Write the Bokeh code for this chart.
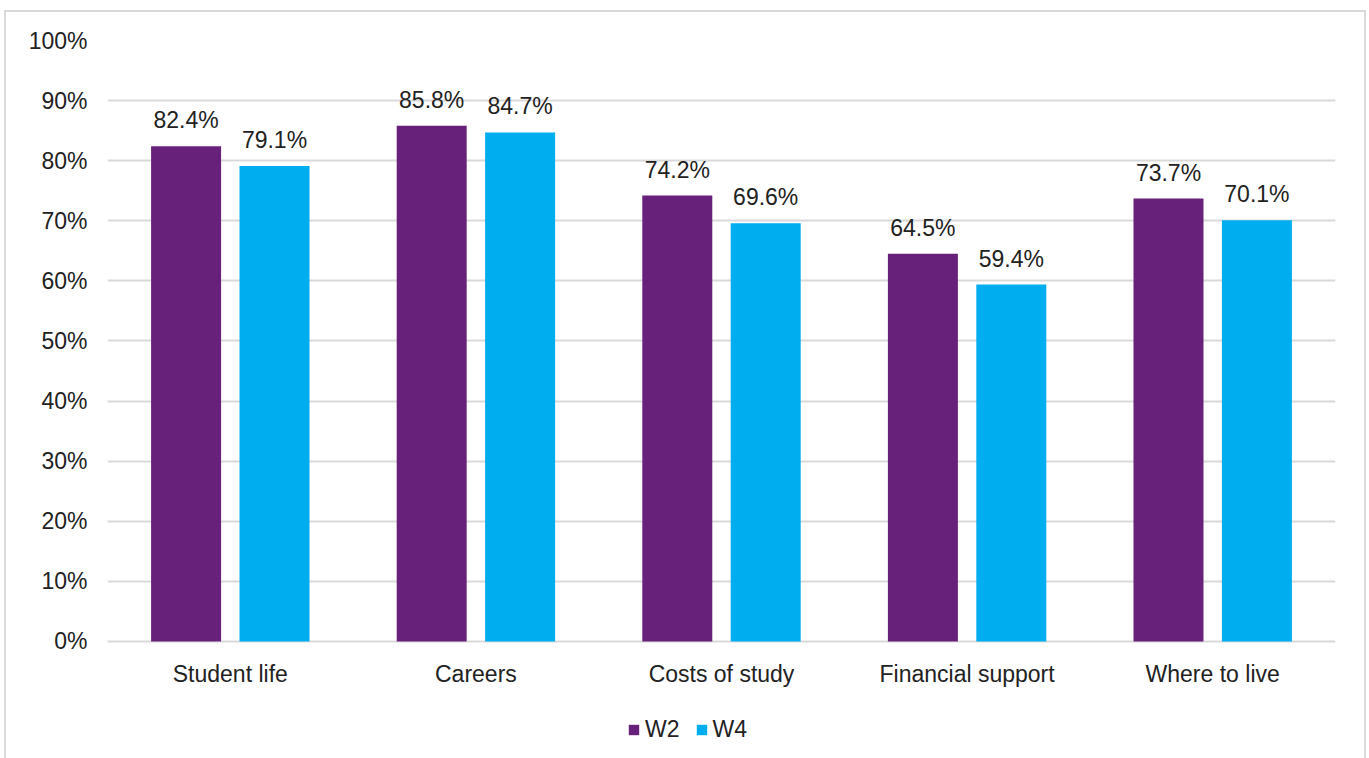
from bokeh.plotting import figure
from bokeh.models import ColumnDataSource, FixedTicker, PrintfTickFormatter, LabelSet, Legend, LegendItem, FactorRange
from bokeh.core.properties import value
from bokeh.transform import dodge
from bokeh.embed import file_html
from bokeh.resources import INLINE

categories = ["Student life", "Careers", "Costs of study", "Financial support", "Where to live"]
w2 = [82.4, 85.8, 74.2, 64.5, 73.7]
w4 = [79.1, 84.7, 69.6, 59.4, 70.1]
series_names = ["W2", "W4"]
y_ticks = [0, 10, 20, 30, 40, 50, 60, 70, 80, 90, 100]

PURPLE = "#68217A"
BLUE = "#00ADEF"
FONT = "Liberation Sans"
FS = "23px"
TXT = "#222222"

src = ColumnDataSource(dict(
    cat=categories, w2=w2, w4=w4, zero=[0] * len(categories),
    w2_lab=[f"{v:.1f}%" for v in w2],
    w4_lab=[f"{v:.1f}%" for v in w4],
))

# frame extended below the zero line to hold category labels and the legend
p = figure(x_range=FactorRange(*categories), y_range=(-19.47, 100),
           frame_width=1228, frame_height=718, output_backend="svg", toolbar_location=None,
           min_border_left=101, min_border_right=29, min_border_top=28, min_border_bottom=0)
p.styles = {"border-top": "2px solid #d9d9d9", "border-left": "2px solid #d9d9d9",
            "border-right": "2px solid #d9d9d9", "box-sizing": "border-box",
            "margin-left": "4px", "margin-top": "10px"}

r1 = p.vbar(x=dodge("cat", -0.18, range=p.x_range), top="w2", width=0.285, source=src,
            fill_color=PURPLE, line_color=None)
r2 = p.vbar(x=dodge("cat", 0.18, range=p.x_range), top="w4", width=0.285, source=src,
            fill_color=BLUE, line_color=None)

for col, off in (("w2", -0.18), ("w4", 0.18)):
    p.add_layout(LabelSet(x=dodge("cat", off, range=p.x_range), y=col, text=col + "_lab",
                          source=src, text_align="center", text_baseline="bottom",
                          y_offset=13, text_font=value(FONT), text_font_size=value(FS),
                          text_color=TXT))

# category labels under the zero line
p.add_layout(LabelSet(x="cat", y="zero", text="cat", source=src, text_align="center",
                      text_baseline="middle", y_offset=-33, text_font=value(FONT),
                      text_font_size=value(FS), text_color=TXT))

p.x_range.range_padding = 0
p.xaxis.visible = False
p.yaxis.ticker = FixedTicker(ticks=y_ticks)
p.yaxis.formatter = PrintfTickFormatter(format="%d%%")
p.yaxis.axis_line_color = None
p.yaxis.major_tick_line_color = None
p.yaxis.minor_tick_line_color = None
p.yaxis.major_label_text_font = FONT
p.yaxis.major_label_text_font_size = FS
p.yaxis.major_label_text_color = TXT
p.yaxis.major_label_standoff = 14

p.xgrid.grid_line_color = None
p.ygrid.ticker = FixedTicker(ticks=y_ticks)
p.ygrid.grid_line_color = "#d9d9d9"
p.ygrid.grid_line_width = 2
p.outline_line_color = None

legend = Legend(items=[LegendItem(label=series_names[0], renderers=[r1]),
                       LegendItem(label=series_names[1], renderers=[r2])],
                orientation="horizontal", location=(520, 15),
                label_text_font=FONT, label_text_font_size=FS, label_text_color=TXT,
                glyph_width=13, glyph_height=13, spacing=15, label_standoff=5,
                border_line_color=None, background_fill_alpha=0, margin=0, padding=4)
p.add_layout(legend, "center")

open("out.html", "w").write(file_html(p, INLINE))
